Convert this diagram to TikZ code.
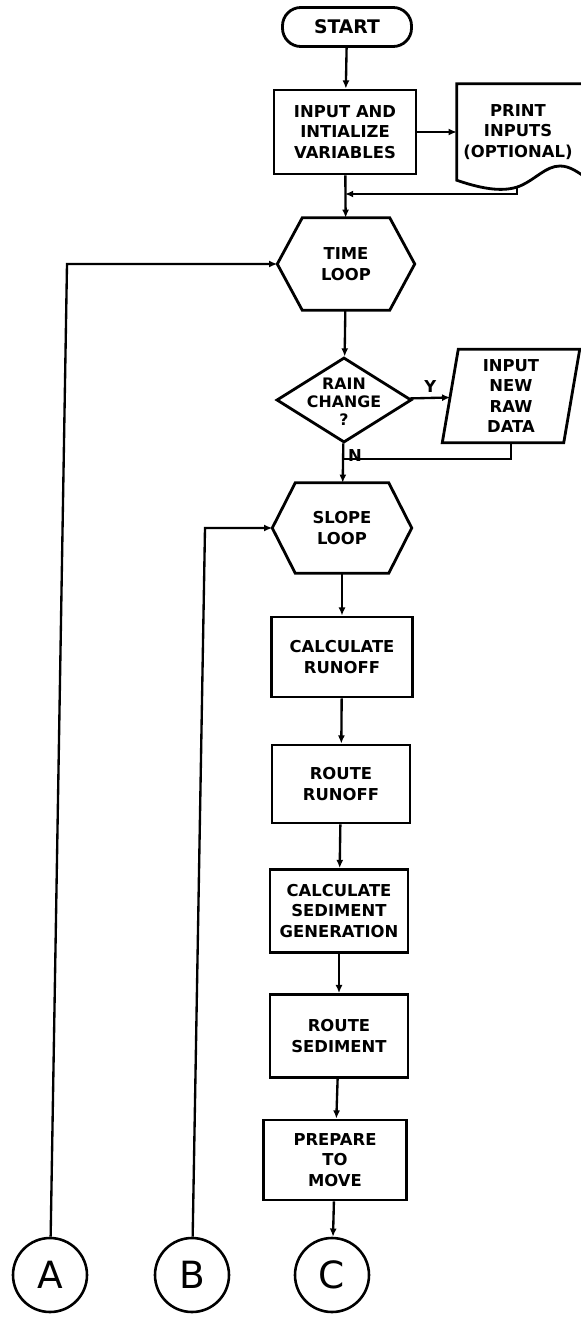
\documentclass[tikz,border=0pt]{standalone}
\usepackage{fontspec}
\newfontfamily\letterfont{DejaVu Sans}
\usetikzlibrary{shapes,arrows.meta,calc,positioning}

\newcommand{\boxfont}{\letterfont\bfseries\fontsize{14}{17.5}\selectfont}
\newcommand{\tightfont}{\letterfont\bfseries\fontsize{13.5}{15.5}\selectfont}
\newcommand{\startfont}{\letterfont\bfseries\fontsize{16}{19}\selectfont}
\newcommand{\circfont}{\letterfont\fontsize{32}{32}\selectfont}

\tikzset{
  proc/.style={draw, rectangle, line width=2.4pt, align=center, font=\boxfont, minimum width=4.2cm, minimum height=2.4cm},
  plain/.style={rectangle, align=center, font=\boxfont, inner sep=0pt},
  hexa/.style={rectangle, align=center, font=\boxfont, inner sep=0pt, minimum width=4.1cm, minimum height=2.7cm},
  decision/.style={diamond, draw, line width=2.4pt, inner sep=0pt, minimum width=4.05cm, minimum height=2.55cm},
  conn/.style={circle, draw, line width=2.2pt, minimum size=2.22cm, inner sep=0pt, font=\circfont},
  flow/.style={line width=2pt, -{Latex[length=7pt,width=6pt]}},
  wire/.style={line width=2pt},
  outline/.style={line width=2.4pt, line join=miter},
}

\newcommand{\hexframe}[2]{%
  \draw[outline] (#1.west) -- ($(#1.north west)+(#2,0)$) -- ($(#1.north east)+(-#2,0)$)
    -- (#1.east) -- ($(#1.south east)+(-#2,0)$) -- ($(#1.south west)+(#2,0)$) -- cycle;}

\begin{document}
\begin{tikzpicture}[x=0.03cm, y=-0.03cm]
   \useasboundingbox (0,0) rectangle (580,1317);
   \node[proc, rounded corners=0.55cm, minimum width=3.87cm, minimum height=1.17cm, font=\startfont] (start) at (347,27) {START};
   \node[proc, minimum width=4.26cm, minimum height=2.52cm] (input) at (345,132) {INPUT AND\\INTIALIZE\\VARIABLES};
   \node[plain, minimum width=3.66cm, minimum height=2.88cm] (prt) at (518,132) {PRINT\\INPUTS\\(OPTIONAL)};
   \draw[outline] ($(prt.north west)+(150,0)$) -- (prt.north west) -- (prt.south west)
     .. controls (485,190) and (505,192) .. (520,186)
     .. controls (536,179) and (546,166) .. (560,166)
     .. controls (570,166) and (578,172) .. (592,182);
   \node[hexa, minimum width=4.11cm, minimum height=2.76cm] (time) at (346,264) {TIME\\LOOP};
   \hexframe{time}{25}
   \node[decision] (rain) at (344,400) {};
   \node[plain, font=\tightfont] (raintxt) at (344,402) {RAIN\\CHANGE\\?};
   \node[plain, minimum width=3.63cm, minimum height=2.79cm] (newd) at (511,396) {INPUT\\NEW\\RAW\\DATA};
   \draw[outline] ($(newd.north west)+(8,0)$) -- ($(newd.north east)+(8,0)$)
     -- ($(newd.south east)+(-8,0)$) -- ($(newd.south west)+(-8,0)$) -- cycle;
   \node[hexa, minimum width=4.17cm, minimum height=2.7cm] (slope) at (342,528) {SLOPE\\LOOP};
   \hexframe{slope}{23}
   \node[proc, minimum width=4.23cm, minimum height=2.4cm] (runoff) at (342,657) {CALCULATE\\RUNOFF};
   \node[proc, minimum width=4.14cm, minimum height=2.34cm] (route) at (341,784) {ROUTE\\RUNOFF};
   \node[proc, minimum width=4.14cm, minimum height=2.49cm] (sedgen) at (339,911) {CALCULATE\\SEDIMENT\\GENERATION};
   \node[proc, minimum width=4.14cm, minimum height=2.49cm] (sedroute) at (339,1036) {ROUTE\\SEDIMENT};
   \node[proc, minimum width=4.29cm, minimum height=2.4cm] (prep) at (335,1160) {PREPARE\\TO\\MOVE};
   \node[conn] (A) at (50,1275) {A};
   \node[conn] (B) at (192,1275) {B};
   \node[conn] (C) at (332,1275) {C};

   \coordinate (pb) at (517,187);
   \coordinate (j1) at (345,194);
   \coordinate (j2) at (343,459);
   \coordinate (tA) at (67,264);
   \coordinate (tB) at (205,528);

   \draw[flow] (start) -- (input);
   \draw[flow] (input) -- (prt);
   \draw[flow] (input) -- (time);
   \draw[flow] (pb) |- (j1);
   \draw[flow] (time) -- (rain);
   \draw[flow] (rain) -- node[above, font=\boxfont] (ylab) {Y} (newd);
   \draw[flow] (rain) -- node[pos=0.3, right, font=\boxfont] (nlab) {N} (slope);
   \draw[wire] (newd.south) |- (j2);
   \draw[flow] (slope) -- (runoff);
   \draw[flow] (runoff) -- (route);
   \draw[flow] (route) -- (sedgen);
   \draw[flow] (sedgen) -- (sedroute);
   \draw[flow] (sedroute) -- (prep);
   \draw[flow] (prep) -- (C);
   \draw[flow] (A) -- (tA) -- (time.west);
   \draw[flow] (B) -- (tB) -- (slope.west);
\end{tikzpicture}
\end{document}
